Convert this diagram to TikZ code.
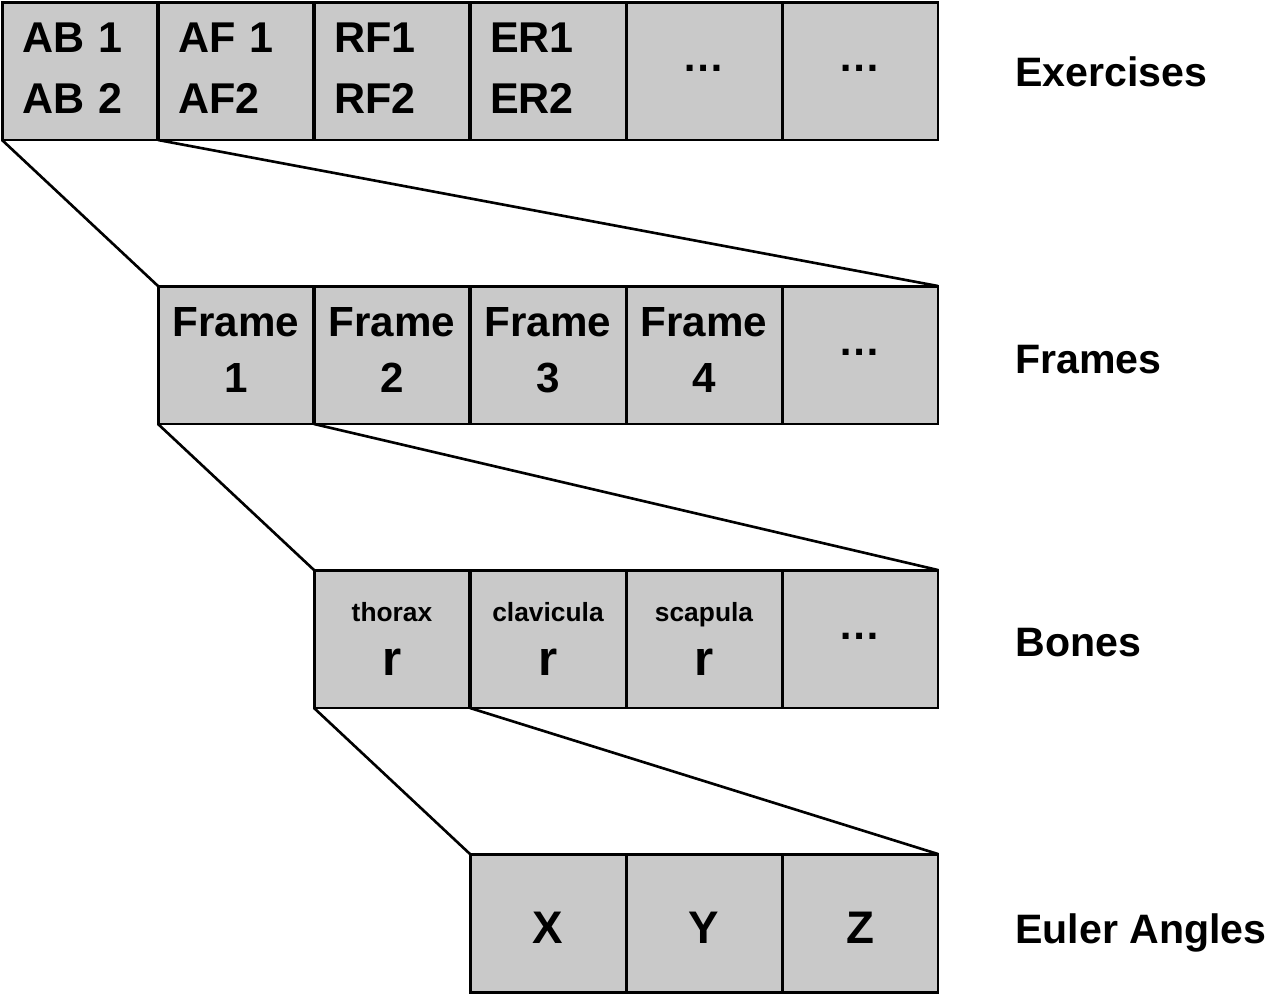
\documentclass[tikz,border=0pt]{standalone}
\usepackage{fontspec}
\setmainfont{Liberation Sans}
\usepackage{tikz}
\definecolor{cellgray}{RGB}{201,201,201}
\newcommand{\dotsmark}{\raisebox{0pt}[0pt][0pt]{…}}

\begin{document}
\begin{tikzpicture}[x=0.02cm,y=-0.02cm,
  cell/.style={draw,fill=cellgray,line width=1.7pt,minimum width=3.12cm,minimum height=2.76cm,
    inner sep=0pt,outer sep=0pt,align=center,font=\bfseries\fontsize{24}{32}\selectfont},
  listcell/.style={text width=2.32cm,inner xsep=0.4cm,align=left,font=\bfseries\fontsize{24.5}{35}\selectfont},
  bonecell/.style={font=\bfseries\fontsize{15}{30.6}\selectfont},
  anglecell/.style={font=\bfseries\fontsize{26}{30}\selectfont},
  link/.style={line width=1.5pt},
  rowlabel/.style={anchor=base west,inner sep=0pt,font=\bfseries\fontsize{23.4}{30}\selectfont}]
%\draw[help lines](0,0)grid(1273,995);
\useasboundingbox (0,0) rectangle (1273,995);

% exercises
\foreach \t [count=\i] in {{AB 1\\AB 2},{AF 1\\AF2},{RF1\\RF2},{ER1\\ER2}}
  \node[cell,listcell] (e\i) at ({80+156*(\i-1)},71) {\t\rule[-0.12cm]{0pt}{0pt}};
\node[cell] (e5) at (704,71) {\dotsmark};
\node[cell] (e6) at (860,71) {\dotsmark};

% frames
\foreach \i in {1,...,4}
  \node[cell] (f\i) at ({236+156*(\i-1)},355) {Frame\\\i\rule[-0.2cm]{0pt}{0pt}};
\node[cell] (f5) at (860,355) {\dotsmark};

% bones
\foreach \b [count=\i] in {thorax,clavicula,scapula}
  \node[cell,bonecell] (b\i) at ({392+156*(\i-1)},639) {\b\\{\fontsize{28}{30.6}\selectfont r}};
\node[cell] (b4) at (860,639) {\dotsmark};

% euler angles
\foreach \a [count=\i] in {X,Y,Z}
  \node[cell,anglecell] (a\i) at ({548+156*(\i-1)},923) {\raisebox{0pt}[0.8cm][0pt]{\a}};

\draw[link] (e1.south west)--(f1.north west);
\draw[link] (e1.south east)--(f5.north east);
\draw[link] (f1.south west)--(b1.north west);
\draw[link] (f1.south east)--(b4.north east);
\draw[link] (b1.south west)--(a1.north west);
\draw[link] (b1.south east)--(a3.north east);

\node[rowlabel] (lexercises) at (1015,86) {Exercises};
\node[rowlabel] (lframes) at (1015,373) {Frames};
\node[rowlabel] (lbones) at (1015,656) {Bones};
\node[rowlabel] (langles) at (1015,943) {Euler Angles};

\end{tikzpicture}
\end{document}
